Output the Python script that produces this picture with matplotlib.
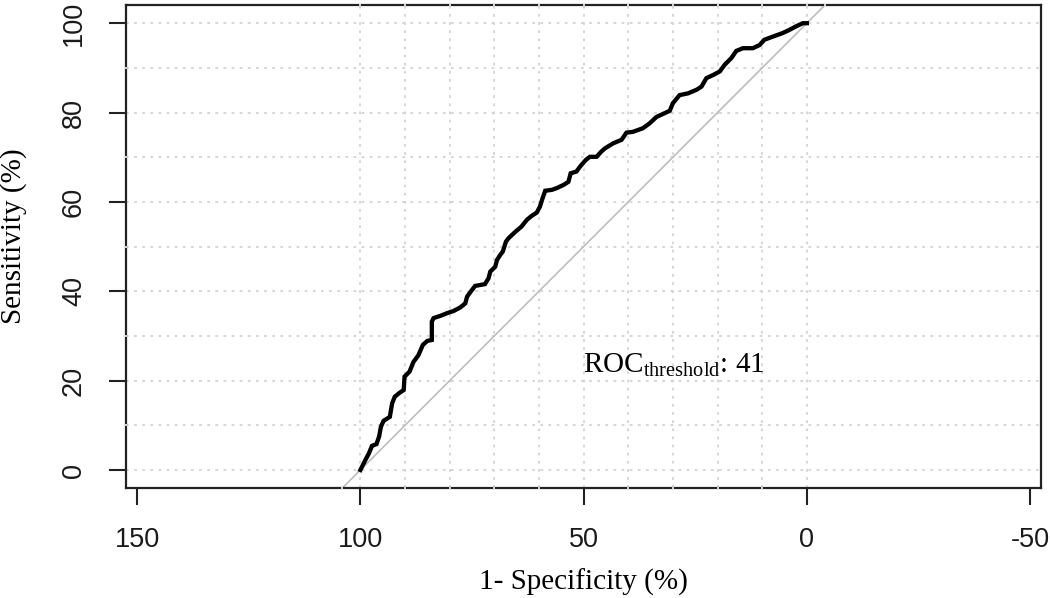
import matplotlib
matplotlib.use("Agg")
import matplotlib.pyplot as plt
import numpy as np

# ROC curve: specificity (%) and sensitivity (%)
specificity = [100, 98.9, 98.1, 97.4, 96.4, 95.8, 95.4, 94.8, 93.4, 92.9, 92.3, 91.2,
               90.3, 90.1, 89.0, 88.1, 87.0, 86.0, 85.0, 84.0, 84.0, 83.6, 82.1, 80.6,
               79.1, 77.6, 76.5, 76.1, 75.0, 74.3, 72.1, 71.3, 70.9, 69.8, 69.4, 68.7,
               68.1, 67.4, 66.8, 65.3, 63.9, 62.7, 61.6, 60.5, 59.8, 59.2, 58.6, 57.1,
               56.0, 54.5, 53.4, 52.9, 51.6, 50.8, 49.5, 48.6, 47.1, 46.0, 45.2, 43.4,
               41.5, 40.4, 38.9, 36.7, 35.2, 33.7, 32.2, 30.7, 30.0, 28.5, 26.6, 24.7,
               23.6, 22.5, 21.0, 19.5, 18.4, 16.9, 15.8, 14.3, 12.1, 10.6, 9.5, 7.6,
               5.4, 3.9, 2.4, 0.9, 0.0]
sensitivity = [0, 2.2, 3.7, 5.4, 5.8, 7.5, 9.7, 11.0, 11.9, 14.9, 16.4, 17.3,
               17.9, 20.9, 22.0, 24.2, 25.7, 28.0, 28.9, 29.1, 33.2, 34.0, 34.5, 35.1,
               35.6, 36.4, 37.3, 38.8, 40.3, 41.2, 41.6, 42.9, 44.4, 45.5, 47.0, 48.1,
               48.9, 51.1, 51.9, 53.3, 54.5, 56.0, 56.9, 57.6, 58.9, 60.8, 62.5, 62.7,
               63.1, 63.8, 64.5, 66.4, 66.8, 67.9, 69.4, 70.1, 70.1, 71.3, 72.0, 73.1,
               73.9, 75.5, 75.7, 76.5, 77.6, 79.0, 79.7, 80.4, 82.1, 83.9, 84.3, 85.1,
               85.8, 87.7, 88.4, 89.2, 90.7, 92.2, 93.8, 94.4, 94.4, 95.1, 96.3, 97.0,
               97.8, 98.5, 99.3, 100.0, 100.0]

x_ticks = [150, 100, 50, 0, -50]
y_ticks = [0, 20, 40, 60, 80, 100]
grid_vals = list(range(0, 101, 10))
label_x = "1- Specificity (%)"
label_y = "Sensitivity (%)"
annotation = r"ROC$_{\mathrm{threshold}}$: 41"
annotation_pos = (50.2, 21.8)

plt.rcParams['mathtext.fontset'] = 'custom'
plt.rcParams['mathtext.rm'] = 'Liberation Serif'
plt.rcParams['mathtext.it'] = 'Liberation Serif:italic'

fig = plt.figure(figsize=(10.5, 5.98), dpi=100)
ax = fig.add_axes([0.12, 0.1834, 0.8712, 0.8077])

xlim = (152.5, -52.4)
ylim = (-4.1, 104.0)

# grid
grid_style = dict(color='#D3D3D3', linestyle=(0, (1.5, 3)), linewidth=1.3, zorder=1)
for g in grid_vals:
    ax.axvline(g, **grid_style)
    ax.axhline(g, **grid_style)

# diagonal
ax.plot([xlim[0], xlim[1]], [100 - xlim[0], 100 - xlim[1]], color='#BEBEBE', lw=1.2, zorder=2)

# ROC curve
ax.plot(specificity, sensitivity, color='black', lw=3.1, solid_joinstyle='miter', zorder=3)

ax.set_xlim(*xlim)
ax.set_ylim(*ylim)

# light gaps where the grid / diagonal cross the frame (as in the reference)
gap = dict(color='#E2E2E2', lw=1.3, clip_on=False, zorder=5, solid_capstyle='butt')
dy = 0.32
dx = 0.32
for g in grid_vals:
    ax.plot([g, g], [ylim[1] - dy, ylim[1] + dy], **gap)
    if g not in x_ticks:
        ax.plot([g, g], [ylim[0] - dy, ylim[0] + dy], **gap)
    if g not in y_ticks:
        ax.plot([xlim[0] - dx, xlim[0] + dx], [g, g], **gap)
ax.plot([100 - ylim[1]] * 2, [ylim[1] - dy, ylim[1] + dy], **gap)
ax.plot([100 - ylim[0]] * 2, [ylim[0] - dy, ylim[0] + dy], **gap)

ax.set_xticks(x_ticks)
ax.set_xticklabels([str(t) for t in x_ticks])
ax.set_yticks(y_ticks)
ax.set_yticklabels([str(t) for t in y_ticks], rotation=90, va='center')

for lab in ax.get_xticklabels() + ax.get_yticklabels():
    lab.set_fontfamily('Liberation Sans')
    lab.set_fontsize(19.5)
    lab.set_color('#1a1a1a')

ax.tick_params(axis='both', direction='out', length=12, width=1.5, color='#222222')
ax.tick_params(axis='x', pad=16)
ax.tick_params(axis='y', pad=16)

for s in ax.spines.values():
    s.set_linewidth(1.6)
    s.set_color('#222222')

ax.set_xlabel(label_x, fontfamily='Liberation Serif', fontsize=21, labelpad=11)
ax.set_ylabel(label_y, fontfamily='Liberation Serif', fontsize=21)
ax.yaxis.set_label_coords(-0.108, 0.522)

ax.text(annotation_pos[0], annotation_pos[1], annotation, fontfamily='Liberation Serif',
        fontsize=21, ha='left', va='baseline', zorder=4)

fig.savefig('out.png', dpi=100, facecolor='white')
